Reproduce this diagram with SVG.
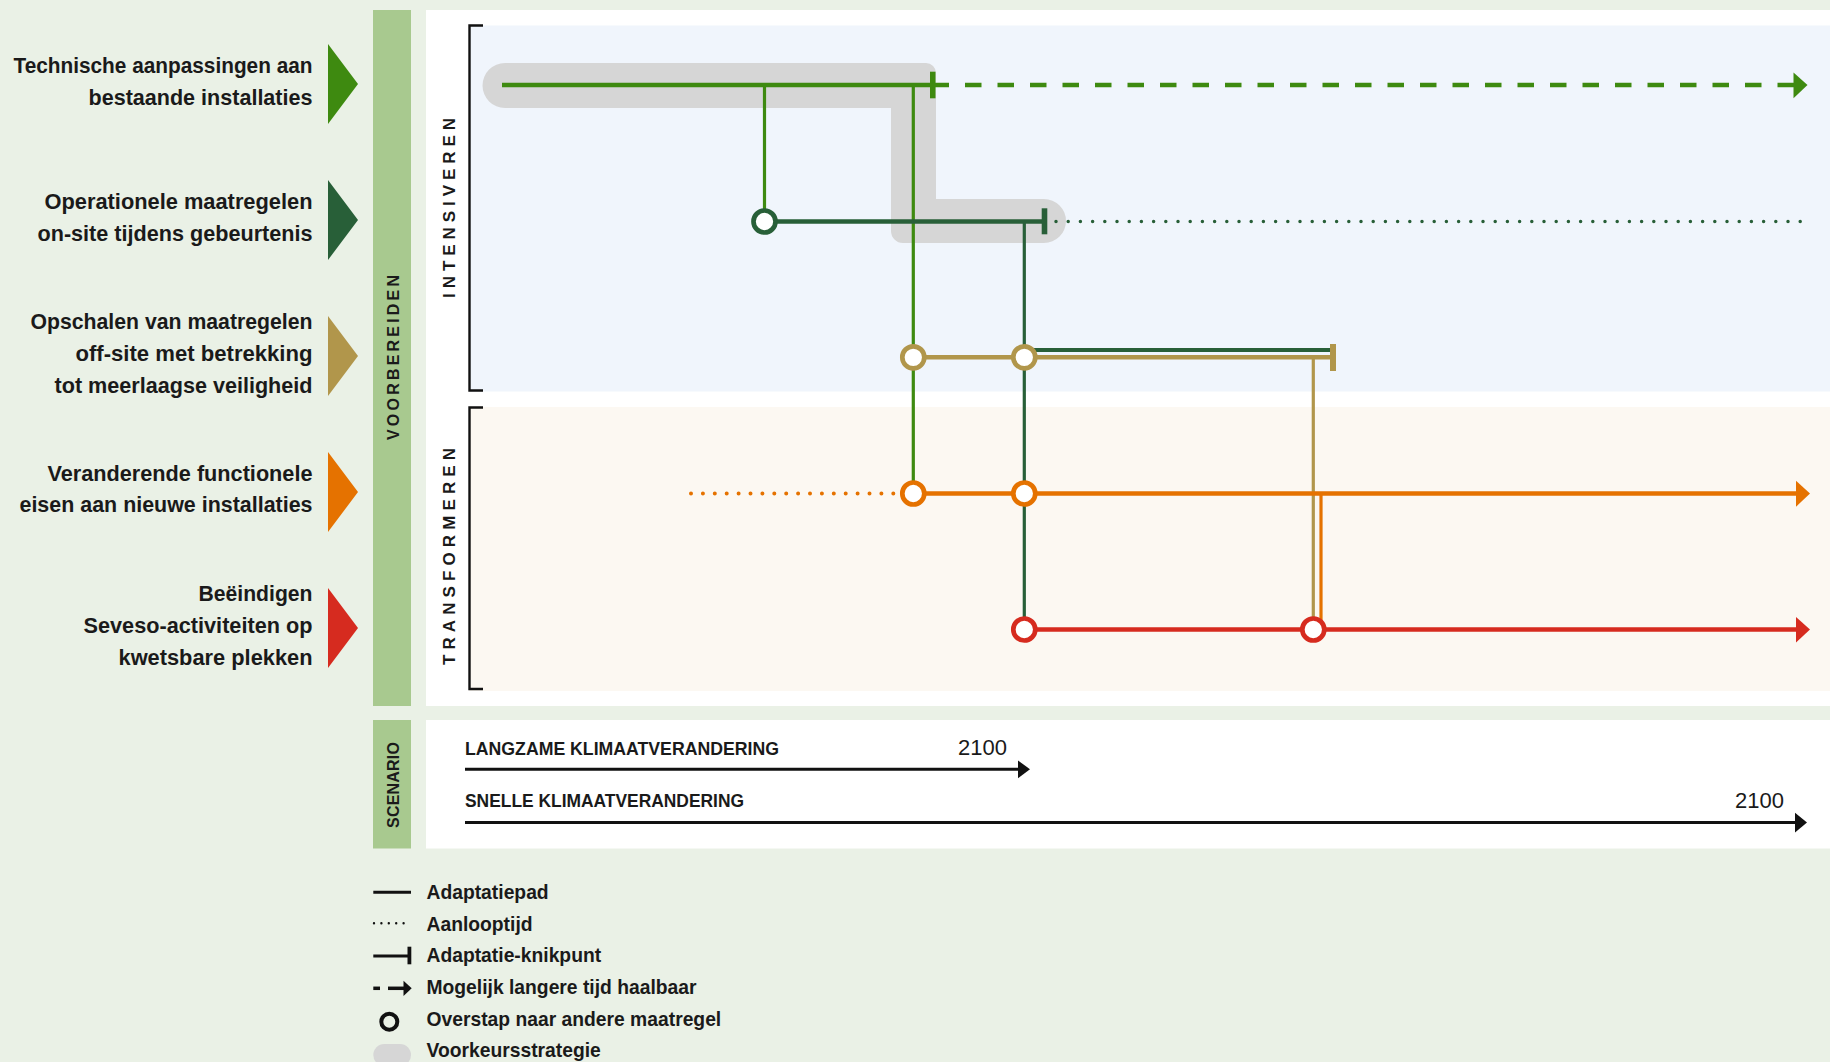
<svg xmlns="http://www.w3.org/2000/svg" width="1830" height="1062" viewBox="0 0 1830 1062">
<defs>
<style>
.lbl{font-family:"Liberation Sans",Arial,sans-serif;font-weight:bold;font-size:22px;fill:#1a1a1a;text-anchor:end}
.rot{font-family:"Liberation Sans",Arial,sans-serif;font-weight:bold;fill:#1a1a1a;text-anchor:middle}
.sc{font-family:"Liberation Sans",Arial,sans-serif;font-weight:bold;font-size:17.5px;fill:#1a1a1a}
.yr{font-family:"Liberation Sans",Arial,sans-serif;font-size:22px;fill:#1a1a1a;text-anchor:end}
.lg{font-family:"Liberation Sans",Arial,sans-serif;font-weight:bold;font-size:19.3px;fill:#1a1a1a}
.h{fill:none;stroke-width:4.5}
.v{fill:none;stroke-width:3.2}
.ring{fill:#fff;stroke-width:4.7}
.g{stroke:#3e8a10}.dg{stroke:#285f38}.tn{stroke:#b1964b}.or{stroke:#e57200}.rd{stroke:#d62b1f}
</style>
</defs>
<rect width="1830" height="1062" fill="#eaf1e6"/>
<g id="panels">
<rect x="373" y="10" width="38" height="696" fill="#a8c98f"/>
<rect x="426" y="10" width="1404" height="696" fill="#ffffff"/>
<rect x="469" y="25.5" width="1361" height="366" fill="#f0f5fc"/>
<rect x="469" y="407" width="1361" height="284" fill="#fcf8f2"/>
<path d="M483,25.5 H469.5 V390.5 H483" fill="none" stroke="#111" stroke-width="2.4"/>
<path d="M483,407.5 H469.5 V689 H483" fill="none" stroke="#111" stroke-width="2.4"/>
<text class="rot" font-size="16" transform="translate(399,357.5) rotate(-90)" textLength="165" lengthAdjust="spacing">VOORBEREIDEN</text>
<text class="rot" font-size="17" transform="translate(454.5,208) rotate(-90)" textLength="180" lengthAdjust="spacing">INTENSIVEREN</text>
<text class="rot" font-size="17" transform="translate(454.5,556.5) rotate(-90)" textLength="217" lengthAdjust="spacing">TRANSFORMEREN</text>
</g>
<g id="row-technische">
<polygon points="328,44 358,84 328,124" fill="#3e8a10"/>
<text class="lbl" x="312.5" y="73" textLength="299" lengthAdjust="spacingAndGlyphs">Technische aanpassingen aan</text>
<text class="lbl" x="312.5" y="105" textLength="224" lengthAdjust="spacingAndGlyphs">bestaande installaties</text>
</g>
<g id="row-operationele">
<polygon points="328,180 358,220 328,260" fill="#285f38"/>
<text class="lbl" x="312.5" y="209" textLength="268" lengthAdjust="spacingAndGlyphs">Operationele maatregelen</text>
<text class="lbl" x="312.5" y="241" textLength="275" lengthAdjust="spacingAndGlyphs">on-site tijdens gebeurtenis</text>
</g>
<g id="row-opschalen">
<polygon points="328,316 358,356 328,396" fill="#b1964b"/>
<text class="lbl" x="312.5" y="329" textLength="282" lengthAdjust="spacingAndGlyphs">Opschalen van maatregelen</text>
<text class="lbl" x="312.5" y="361" textLength="237" lengthAdjust="spacingAndGlyphs">off-site met betrekking</text>
<text class="lbl" x="312.5" y="393" textLength="258" lengthAdjust="spacingAndGlyphs">tot meerlaagse veiligheid</text>
</g>
<g id="row-veranderende">
<polygon points="328,452 358,492 328,532" fill="#e57200"/>
<text class="lbl" x="312.5" y="481" textLength="265" lengthAdjust="spacingAndGlyphs">Veranderende functionele</text>
<text class="lbl" x="312.5" y="512" textLength="293" lengthAdjust="spacingAndGlyphs">eisen aan nieuwe installaties</text>
</g>
<g id="row-beeindigen">
<polygon points="328,588 358,628 328,668" fill="#d62b1f"/>
<text class="lbl" x="312.5" y="601" textLength="114" lengthAdjust="spacingAndGlyphs">Beëindigen</text>
<text class="lbl" x="312.5" y="633" textLength="229" lengthAdjust="spacingAndGlyphs">Seveso-activiteiten op</text>
<text class="lbl" x="312.5" y="665" textLength="194" lengthAdjust="spacingAndGlyphs">kwetsbare plekken</text>
</g>
<g id="voorkeursstrategie">
<path d="M505,63 H926 A10,10 0 0 1 936,73 V199 H1044 A22,22 0 0 1 1044,243 H903 A12,12 0 0 1 891,231 V108 H505 A22.5,22.5 0 0 1 505,63 Z" fill="#d6d6d6"/>
</g>
<g id="connectors">
<line class="v g" x1="764.5" y1="85" x2="764.5" y2="212"/>
<line class="v g" x1="913.3" y1="85" x2="913.3" y2="493"/>
<line class="v dg" x1="1024.3" y1="221.5" x2="1024.3" y2="629"/>
<line class="v tn" x1="1313.3" y1="357.3" x2="1313.3" y2="620"/>
<line class="v or" x1="1321" y1="493.5" x2="1321" y2="622"/>
<line class="h g" x1="502" y1="85" x2="932.5" y2="85"/>
<rect x="930" y="71.7" width="5.5" height="26.6" fill="#3e8a10"/>
<line class="h g" x1="932.5" y1="85" x2="1794" y2="85" stroke-dasharray="16.5 16"/>
<polygon points="1793.5,72.5 1807.5,85 1793.5,98.3" fill="#3e8a10"/>
<line class="h dg" x1="764.5" y1="221.5" x2="1044.5" y2="221.5"/>
<rect x="1041.7" y="208.3" width="5.6" height="26" fill="#285f38"/>
<line class="dg" x1="1056" y1="221.5" x2="1809" y2="221.5" stroke-width="3.5" stroke-linecap="round" stroke-dasharray="0 12.2"/>
<line class="dg" x1="1024.3" y1="350" x2="1331" y2="350" stroke-width="4"/>
<line class="h tn" x1="913.3" y1="357.3" x2="1333" y2="357.3" stroke-width="4"/>
<rect x="1330" y="344" width="6" height="27" fill="#b1964b"/>
<line class="or" x1="691" y1="493.5" x2="893.5" y2="493.5" stroke-width="4" stroke-linecap="round" stroke-dasharray="0 11.9"/>
<line class="h or" x1="913.3" y1="493.5" x2="1797" y2="493.5"/>
<polygon points="1796,480.7 1810,493.5 1796,506.7" fill="#e57200"/>
<line class="h rd" x1="1024.3" y1="629.5" x2="1797" y2="629.5"/>
<polygon points="1796,617 1810,629.5 1796,642.5" fill="#d62b1f"/>
</g>
<g id="transfer-points">
<circle class="ring dg" cx="764.5" cy="221.5" r="11"/>
<circle class="ring tn" cx="913.3" cy="357.3" r="11"/>
<circle class="ring tn" cx="1024.3" cy="357.3" r="11"/>
<circle class="ring or" cx="913.3" cy="493.5" r="11"/>
<circle class="ring or" cx="1024.3" cy="493.5" r="11"/>
<circle class="ring rd" cx="1024.3" cy="629.5" r="11"/>
<circle class="ring rd" cx="1313.3" cy="629.5" r="11"/>
</g>
<g id="scenario">
<rect x="373" y="720" width="38" height="128.5" fill="#a8c98f"/>
<rect x="426" y="720" width="1404" height="128.5" fill="#ffffff"/>
<text class="rot" font-size="16" transform="translate(399,785) rotate(-90)" textLength="86" lengthAdjust="spacing">SCENARIO</text>
<text class="sc" x="465" y="755" textLength="314" lengthAdjust="spacingAndGlyphs">LANGZAME KLIMAATVERANDERING</text>
<text class="yr" x="1007" y="755">2100</text>
<line x1="465" y1="769.3" x2="1019" y2="769.3" stroke="#111" stroke-width="3"/>
<polygon points="1018,760.5 1030,769.3 1018,778.2" fill="#111"/>
<text class="sc" x="465" y="807.3" textLength="279" lengthAdjust="spacingAndGlyphs">SNELLE KLIMAATVERANDERING</text>
<text class="yr" x="1784" y="808.3">2100</text>
<line x1="465" y1="822.5" x2="1796" y2="822.5" stroke="#111" stroke-width="3"/>
<polygon points="1795,812.7 1807,822.5 1795,832.5" fill="#111"/>
</g>
<g id="legend">
<line x1="373.3" y1="892.3" x2="411" y2="892.3" stroke="#111" stroke-width="3"/>
<text class="lg" x="426.5" y="898.5">Adaptatiepad</text>
<line x1="374" y1="923.3" x2="411" y2="923.3" stroke="#111" stroke-width="2.4" stroke-linecap="round" stroke-dasharray="0 7.4"/>
<text class="lg" x="426.5" y="931">Aanlooptijd</text>
<line x1="373.3" y1="956" x2="409" y2="956" stroke="#111" stroke-width="3"/>
<rect x="407.5" y="946.7" width="3.8" height="17.6" fill="#111"/>
<text class="lg" x="426.5" y="962">Adaptatie-knikpunt</text>
<line x1="373.3" y1="988.3" x2="380" y2="988.3" stroke="#111" stroke-width="3.5"/>
<line x1="388" y1="988.3" x2="405" y2="988.3" stroke="#111" stroke-width="3.5"/>
<polygon points="403.5,980.7 411.7,988.3 403.5,996" fill="#111"/>
<text class="lg" x="426.5" y="993.5">Mogelijk langere tijd haalbaar</text>
<circle cx="389.3" cy="1021.7" r="8" fill="none" stroke="#111" stroke-width="4"/>
<text class="lg" x="426.5" y="1025.7">Overstap naar andere maatregel</text>
<rect x="373.3" y="1044" width="37.7" height="22" rx="11" fill="#d6d6d6"/>
<text class="lg" x="426.5" y="1056.7">Voorkeursstrategie</text>
</g>
</svg>
